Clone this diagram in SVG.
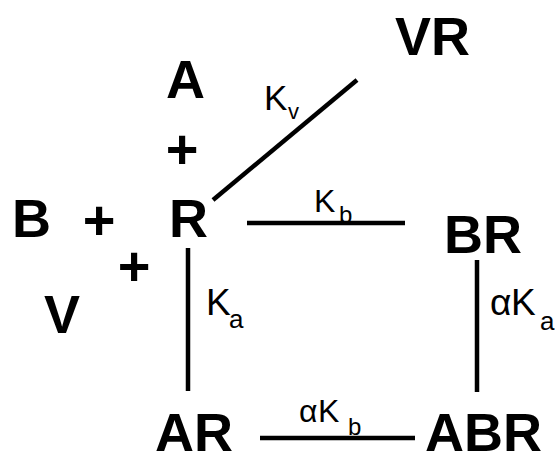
<svg xmlns="http://www.w3.org/2000/svg" width="555" height="453" viewBox="0 0 555 453">
<style>
.n{font-family:"Liberation Sans",Arial,sans-serif;font-weight:bold;font-size:54px;fill:#000}
.p{font-family:"Liberation Sans",Arial,sans-serif;font-weight:bold;font-size:56px;fill:#000;text-anchor:middle}
.l{font-family:"Liberation Sans",Arial,sans-serif;fill:#000}
.c{stroke:#000;stroke-width:4.5;fill:none}
</style>
<rect width="555" height="453" fill="#fff"/>
<g id="connectors">
<line class="c" x1="213" y1="200" x2="357" y2="80"/>
<line class="c" x1="247" y1="223" x2="405" y2="223"/>
<line class="c" x1="188" y1="248" x2="188" y2="391"/>
<line class="c" x1="477" y1="260" x2="477" y2="392"/>
<line class="c" x1="260" y1="438" x2="415" y2="438"/>
</g>
<g id="labels">
<text class="l" font-size="35" x="264" y="110">K</text><text class="l" font-size="22" x="288" y="119">v</text>
<text class="l" font-size="32" x="314" y="212">K</text><text class="l" font-size="24" x="339" y="223">b</text>
<text class="l" font-size="37" x="206" y="315">K</text><text class="l" font-size="26" x="229" y="328">a</text>
<text class="l" font-size="37" x="490" y="315">α</text><text class="l" font-size="37" x="511" y="315">K</text><text class="l" font-size="26" x="540" y="330">a</text>
<text class="l" font-size="32" x="299" y="422">α</text><text class="l" font-size="32" x="318" y="422">K</text><text class="l" font-size="24" x="348" y="435">b</text>
</g>
<g id="VR"><text class="n" x="395" y="55">VR</text></g>
<g id="A"><text class="n" x="166" y="98">A</text></g>
<g id="plus1"><text class="p" x="182" y="168">+</text></g>
<g id="B"><text class="n" x="12" y="237">B</text></g>
<g id="plus2"><text class="p" x="99" y="239">+</text></g>
<g id="R"><text class="n" x="169" y="237">R</text></g>
<g id="plus3"><text class="p" x="134" y="285">+</text></g>
<g id="V"><text class="n" x="44" y="333">V</text></g>
<g id="BR"><text class="n" x="444" y="253">BR</text></g>
<g id="AR"><text class="n" x="155" y="451">AR</text></g>
<g id="ABR"><text class="n" x="425" y="451">ABR</text></g>
</svg>
